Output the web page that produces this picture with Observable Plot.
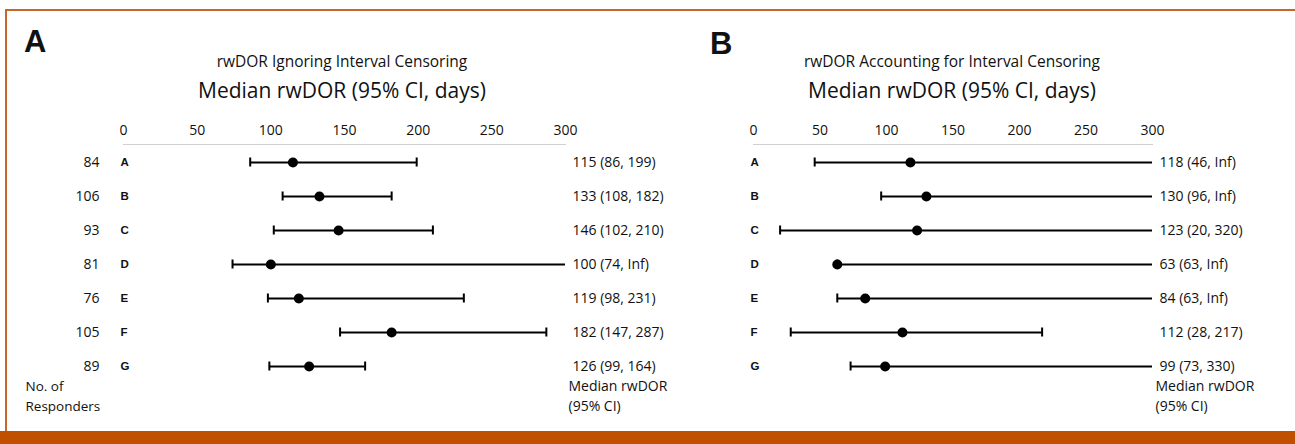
<!DOCTYPE html>
<html>
<head>
<meta charset="utf-8">
<script src="https://cdn.jsdelivr.net/npm/d3@7"></script>
<script src="https://cdn.jsdelivr.net/npm/@observablehq/plot@0.6"></script>
<style>
  html, body { margin: 0; padding: 0; background: #fff; }
  body { width: 1295px; height: 444px; position: relative; overflow: hidden;
         font-family: "Open Sans", "DejaVu Sans Condensed", sans-serif; font-stretch: 95%; color: #111; }
  svg, svg text { font-stretch: 95%; }
  #frame { position: absolute; left: 5px; top: 9px; right: -10px; bottom: 13px;
           border-top: 2px solid #c8652a; border-left: 2px solid #c8652a; }
  #band { position: absolute; left: 0; right: 0; bottom: 0; height: 13px; background: #c14f00; }
  .letter { position: absolute; font-family: "Liberation Sans", Arial, sans-serif; font-stretch: 100%; font-weight: bold; font-size: 31px; line-height: 1; }
  .sub { position: absolute; font-size: 15.5px; text-align: center; white-space: nowrap; transform: translateX(-50%); }
  .ttl { position: absolute; font-size: 21px; text-align: center; white-space: nowrap; transform: translateX(-50%); }
  .plot { position: absolute; top: 100px; }
</style>
</head>
<body>
<div id="frame"></div>
<div id="band"></div>
<div class="letter" style="left:24px;top:26px;">A</div>
<div class="letter" style="left:710px;top:28px;">B</div>
<div class="sub" style="left:342px;top:50px;">rwDOR Ignoring Interval Censoring</div>
<div class="ttl" style="left:342px;top:76px;">Median rwDOR (95% CI, days)</div>
<div class="sub" style="left:952px;top:50px;">rwDOR Accounting for Interval Censoring</div>
<div class="ttl" style="left:952px;top:76px;">Median rwDOR (95% CI, days)</div>
<div id="pa" class="plot" style="left:0px;"></div>
<div id="pb" class="plot" style="left:645px;"></div>
<script>
// ---- data ----
const groups = ["A", "B", "C", "D", "E", "F", "G"];
const responders = [84, 106, 93, 81, 76, 105, 89];
const xTicks = [0, 50, 100, 150, 200, 250, 300];

// Panel A: ignoring interval censoring
const medianA = [115, 133, 146, 100, 119, 182, 126];
const lowerA  = [86, 108, 102, 74, 98, 147, 99];
const upperA  = [199, 182, 210, Infinity, 231, 287, 164];

// Panel B: accounting for interval censoring
const medianB = [118, 130, 123, 63, 84, 112, 99];
const lowerB  = [46, 96, 20, 63, 63, 28, 73];
const upperB  = [Infinity, Infinity, 320, Infinity, Infinity, 217, 330];

const XMAX = 300;
const FONT = '"Open Sans", "DejaVu Sans Condensed", sans-serif';

function fmt(v) { return Number.isFinite(v) ? String(v) : "Inf"; }

function rows(med, lo, hi) {
  return groups.map((g, i) => ({
    group: g, n: responders[i], med: med[i], lo: lo[i], hi: hi[i],
    hiClip: Math.min(hi[i], XMAX),
    label: `${med[i]} (${fmt(lo[i])}, ${fmt(hi[i])})`
  }));
}

function panel(data, opts) {
  const caps = data.flatMap(d => [
    {group: d.group, x: d.lo},
    ...(d.hi <= XMAX ? [{group: d.group, x: d.hi}] : [])
  ]);
  const marks = [
    Plot.frame({anchor: "top", stroke: "#d0d0d0", strokeWidth: 1}),
    Plot.axisX(xTicks, {anchor: "top", tickSize: 0, tickPadding: 10, fontSize: 14, label: null, textStroke: "none"}),
    Plot.ruleY(data, {y: "group", x1: "lo", x2: "hiClip", stroke: "#000", strokeWidth: 2.2}),
    Plot.tickX(caps, {x: "x", y: "group", stroke: "#000", strokeWidth: 2, insetTop: 12.5, insetBottom: 12.5}),
    Plot.dot(data, {x: "med", y: "group", r: 5, fill: "#000", stroke: "none"}),
    Plot.text(data, {x: () => 0, y: "group", text: "group", textAnchor: "start", dx: -3,
                     fontWeight: "bold", fontSize: 11.5, fontFamily: "Liberation Sans, Arial, sans-serif"}),
    Plot.text(data, {x: () => XMAX, y: "group", text: "label", textAnchor: "start", dx: 7, fontSize: 14}),
    Plot.text(["Median rwDOR\n(95% CI)"], {frameAnchor: "bottom-right", textAnchor: "start", lineAnchor: "top",
                     dx: 3, dy: -8, fontSize: 14, lineHeight: 1.45})
  ];
  if (opts.counts) {
    marks.push(
      Plot.text(data, {x: () => 0, y: "group", text: d => String(d.n), textAnchor: "end", dx: -24, fontSize: 14}),
      Plot.text(["No. of\nResponders"], {frameAnchor: "bottom-left", textAnchor: "start", lineAnchor: "top",
                     dx: -98, dy: -8, fontSize: 13.5, lineHeight: 1.5})
    );
  }
  return Plot.plot({
    width: opts.width,
    height: 314,
    marginLeft: opts.marginLeft,
    marginRight: opts.marginRight,
    marginTop: 44,
    marginBottom: 30,
    style: {fontFamily: FONT, fontSize: "14px", color: "#111", background: "transparent", overflow: "visible"},
    x: {domain: [0, XMAX], axis: null},
    y: {domain: groups, padding: 0, axis: null},
    marks
  });
}

document.getElementById("pa").appendChild(panel(rows(medianA, lowerA, upperA), {width: 645, marginLeft: 123, marginRight: 80, counts: true}));
document.getElementById("pb").appendChild(panel(rows(medianB, lowerB, upperB), {width: 650, marginLeft: 108, marginRight: 143, counts: false}));
</script>
</body>
</html>
